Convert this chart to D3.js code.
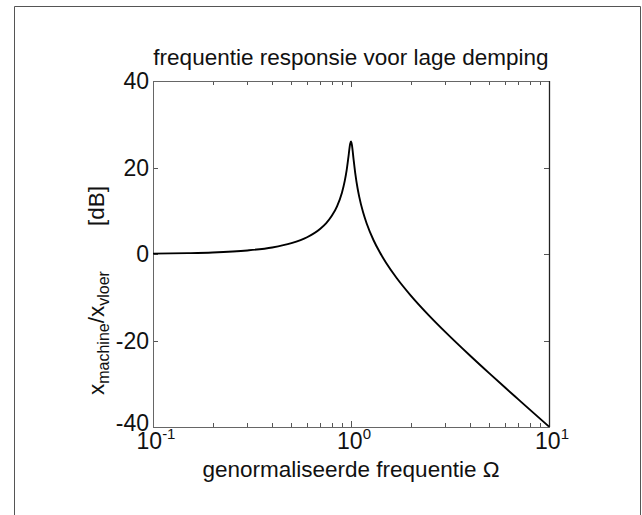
<!DOCTYPE html>
<html><head><meta charset="utf-8">
<script src="https://cdn.jsdelivr.net/npm/d3@7"></script>
<style>body{margin:0;background:#fff}svg{display:block}text{font-family:"Liberation Sans",Arial,sans-serif;fill:#111}</style>
</head><body>
<script>
// Data
const omega = [0.1,0.15,0.2,0.3,0.4,0.5,0.6,0.7,0.75,0.8,0.85,0.9,0.93,0.95,0.97,0.99,1.0,1.01,1.03,1.05,1.08,1.1,1.15,1.2,1.3,1.4,1.5,1.7,2,2.5,3,4,5,6,7,8,10];
const gainDB = [0.09,0.2,0.35,0.82,1.51,2.5,3.88,5.85,7.15,8.82,11.03,14.19,16.9,19.29,22.33,25.46,26.02,25.3,21.96,18.77,15.14,13.27,9.69,7.05,3.18,0.33,-1.95,-5.54,-9.55,-14.41,-18.06,-23.52,-27.6,-30.88,-33.62,-35.99,-39.91];
const yTicks = [-40,-20,0,20,40];
const xTickExp = [-1,0,1];
const title = "frequentie responsie voor lage demping";
const xLabel = "genormaliseerde frequentie \u03A9";

const W = 642, H = 515;
const m = {left:153, top:81, right:549, bottom:427};
const svg = d3.select("body").append("svg").attr("width",W).attr("height",H);

// outer frame (bottom edge outside picture)
svg.append("path").attr("d",`M14.5,${H+2}V6.5H640.5V${H+2}`).attr("fill","none").attr("stroke","#555").attr("stroke-width",1);

const x = d3.scaleLog().domain([0.1,10]).range([m.left,m.right]);
const y = d3.scaleLinear().domain([-40,40]).range([m.bottom,m.top]);

// ticks inside
const tl = 5;
const minor = [];
for (let e=-1;e<1;e++) for (let k=1;k<10;k++) minor.push(k*Math.pow(10,e));
minor.push(10);
const tg = svg.append("g").attr("stroke","#555").attr("stroke-width",1);
minor.forEach(v=>{
  const len = (Math.abs(Math.log10(v)-Math.round(Math.log10(v)))<1e-9)? tl+1 : tl-1;
  const px = Math.round(x(v))+0.5;
  tg.append("line").attr("x1",px).attr("x2",px).attr("y1",m.bottom).attr("y2",m.bottom-len);
  tg.append("line").attr("x1",px).attr("x2",px).attr("y1",m.top).attr("y2",m.top+len);
});
yTicks.forEach(v=>{
  const py = Math.round(y(v))+0.5;
  tg.append("line").attr("x1",m.left).attr("x2",m.left+tl).attr("y1",py).attr("y2",py);
  tg.append("line").attr("x1",m.right).attr("x2",m.right-tl).attr("y1",py).attr("y2",py);
});

// box
svg.append("rect").attr("x",m.left+0.5).attr("y",m.top+0.5).attr("width",m.right-m.left).attr("height",m.bottom-m.top)
  .attr("fill","none").attr("stroke","#666").attr("stroke-width",1);
svg.append("line").attr("x1",m.right+0.5).attr("x2",m.right+0.5).attr("y1",m.top).attr("y2",m.bottom)
  .attr("stroke","#222").attr("stroke-width",1.3);

// curve
const pts = omega.map((o,i)=>[o,gainDB[i]]);
svg.append("path").datum(pts)
  .attr("d",d3.line().x(d=>x(d[0])).y(d=>y(d[1])).curve(d3.curveMonotoneX))
  .attr("fill","none").attr("stroke","#000").attr("stroke-width",1.9);

// y tick labels
yTicks.forEach(v=>{
  svg.append("text").attr("x",m.left-4).attr("y",y(v)+(v===-40?4:8)).attr("text-anchor","end")
    .attr("font-size",23).text(v);
});
// x tick labels
xTickExp.forEach(e=>{
  const t = svg.append("text").attr("x",x(Math.pow(10,e))+3).attr("y",m.bottom+22).attr("text-anchor","middle").attr("font-size",23);
  t.append("tspan").text("10");
  t.append("tspan").attr("dy",-10).attr("font-size",15).text(e);
});

// title
svg.append("text").attr("x",(m.left+m.right)/2).attr("y",65).attr("text-anchor","middle").attr("font-size",22.5).text(title);
// x label
svg.append("text").attr("x",(m.left+m.right)/2).attr("y",477).attr("text-anchor","middle").attr("font-size",22.5).text(xLabel);
// y label
const yl = svg.append("text").attr("transform","translate(104,395) rotate(-90)").attr("text-anchor","start").attr("font-size",22.5);
yl.append("tspan").text("x");
yl.append("tspan").attr("dy",5).attr("font-size",16).text("machine");
yl.append("tspan").attr("dy",-5).text("/x");
yl.append("tspan").attr("dy",5).attr("font-size",16).text("vloer");
yl.append("tspan").attr("dy",-5).text("\u2002\u2002\u2002\u2002[dB]");
</script>
</body></html>
